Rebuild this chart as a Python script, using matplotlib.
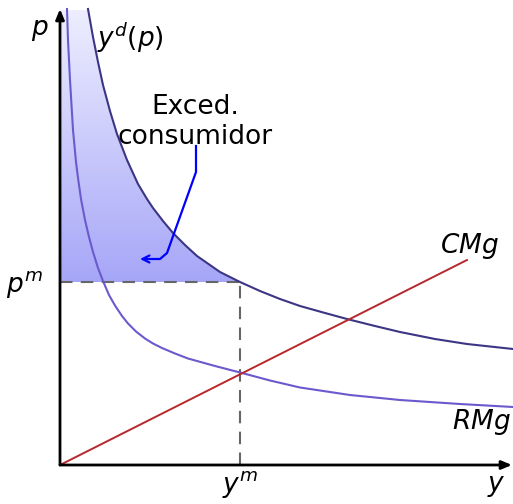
import numpy as np
import matplotlib
matplotlib.use('Agg')
import matplotlib.pyplot as plt
from matplotlib.patches import Polygon

plt.rcParams['mathtext.fontset'] = 'dejavusans'

# curva de demanda y^d(p)
y_dem = [28, 33, 38, 43, 50, 57, 67, 78, 87, 93, 103, 113, 125, 137, 160, 180,
         200, 220, 240, 265, 287, 315, 340, 375, 407, 453]
p_dem = [456, 428, 403, 380, 354, 331, 305, 281, 266, 257, 244, 232, 220, 209, 193, 183,
         174, 166, 159, 152, 146, 139, 133, 126, 121, 116]

# ingreso marginal RMg
y_rmg = [7, 8, 10, 13, 16, 18, 21, 25, 29, 33, 38, 43, 49, 55, 62, 68, 76, 85, 93, 102,
         115, 128, 155, 182, 210, 240, 290, 340, 400, 453]
p_rmg = [456, 425, 385, 335, 303, 287, 266, 245, 228, 213, 197, 184, 170, 159.5, 149, 141.5,
         133.5, 126.5, 121.5, 117, 111.5, 106.5, 99, 92, 84.5, 77.5, 70, 65, 61, 58]

# coste marginal CMg (recta)
y_cmg = [0, 407]
p_cmg = [0, 205]

# monopolio
y_m = 180
p_m = 183

c_dem = '#3c3584'
c_rmg = '#6a5acd'
c_cmg = '#b8272b'

fig = plt.figure(figsize=(5.13, 5.04), dpi=100)
ax = fig.add_axes([0, 0, 1, 1])
ax.set_xlim(-60, 453)
ax.set_ylim(-39, 465)
ax.axis('off')

# excedente del consumidor con degradado
yd = np.array(y_dem)
pd_ = np.array(p_dem)
sel = yd <= y_m
poly_pts = [(0, p_m), (0, 455)] + list(zip(yd[sel], pd_[sel])) + [(y_m, p_m)]
poly = Polygon(poly_pts, closed=True, facecolor='none', edgecolor='none')
ax.add_patch(poly)
grad = np.linspace(0, 1, 256).reshape(-1, 1)
top = np.array([238, 238, 255]) / 255.
bot = np.array([166, 166, 248]) / 255.
img = top[None, None, :] * (1 - grad[:, :, None]) + bot[None, None, :] * grad[:, :, None]
im = ax.imshow(img, extent=[0, y_m, p_m, 455], origin='upper', aspect='auto', zorder=1)
im.set_clip_path(poly)

# lineas de referencia
ax.plot([0, y_m], [p_m, p_m], color='#666666', lw=1.5, ls=(0, (6, 4)), zorder=2)
ax.plot([y_m, y_m], [0, p_m], color='#666666', lw=1.5, ls=(0, (6, 4)), zorder=2)

# curvas
ax.plot(y_dem, p_dem, color=c_dem, lw=1.5, zorder=3)
ax.plot(y_rmg, p_rmg, color=c_rmg, lw=1.5, zorder=3)
ax.plot(y_cmg, p_cmg, color=c_cmg, lw=1.4, zorder=3)

# ejes
ax.annotate('', xy=(0, 456), xytext=(0, 0),
            arrowprops=dict(arrowstyle='-|>,head_length=0.6,head_width=0.25', lw=2, color='black',
                            shrinkA=0, shrinkB=0), zorder=4)
ax.annotate('', xy=(452, 0), xytext=(0, 0),
            arrowprops=dict(arrowstyle='-|>,head_length=0.6,head_width=0.25', lw=2, color='black',
                            shrinkA=0, shrinkB=0), zorder=4)

# flecha de la etiqueta
ax.plot([136, 136, 107, 100, 86], [319, 293, 212, 206, 206], color='#0000ff', lw=1.6, zorder=5)
ax.annotate('', xy=(80, 206), xytext=(88, 206),
            arrowprops=dict(arrowstyle='->,head_length=0.5,head_width=0.25', lw=1.6, color='#0000ff',
                            shrinkA=0, shrinkB=0), zorder=5)

fs = 19
ax.text(-20, 435, '$p$', fontsize=fs, ha='center', va='center')
ax.text(37, 427, '$y^d(p)$', fontsize=fs, ha='left', va='center')
ax.text(135, 343, 'Exced.\nconsumidor', fontsize=fs, ha='center', va='center', linespacing=1.15)
ax.text(-17, 181, '$p^m$', fontsize=fs, ha='right', va='center')
ax.text(380, 219, '$CMg$', fontsize=fs, ha='left', va='center')
ax.text(392, 43, '$RMg$', fontsize=fs, ha='left', va='center')
ax.text(180, -20, '$y^m$', fontsize=fs, ha='center', va='center')
ax.text(436, -21, '$y$', fontsize=fs, ha='center', va='center')

fig.savefig('out.png', dpi=100)
